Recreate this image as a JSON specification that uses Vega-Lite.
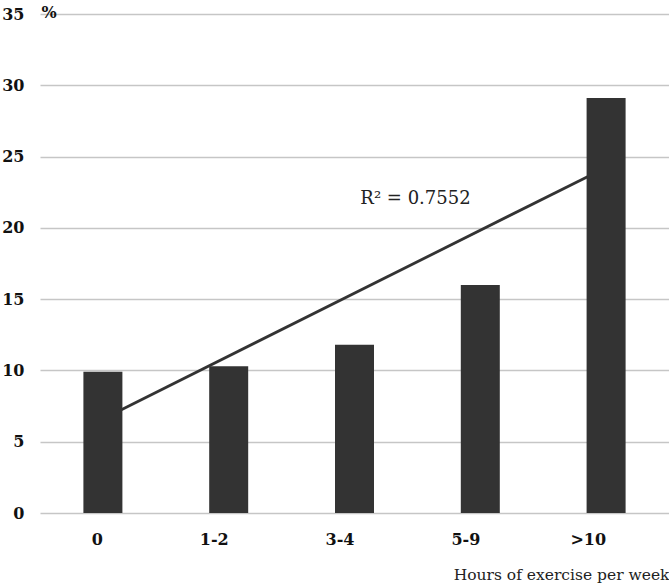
{
  "$schema": "https://vega.github.io/schema/vega-lite/v6.json",
  "width": 629,
  "height": 499,
  "autosize": {"type": "none"},
  "padding": {"left": 40, "top": 14, "right": 0, "bottom": 73},
  "background": "white",
  "config": {
    "view": {"stroke": null},
    "font": "DejaVu Serif"
  },
  "datasets": {
    "bars": [
      {"hours": "0", "pct": 9.9},
      {"hours": "1-2", "pct": 10.3},
      {"hours": "3-4", "pct": 11.8},
      {"hours": "5-9", "pct": 16.0},
      {"hours": ">10", "pct": 29.1}
    ],
    "trend": [
      {"hours": "0", "pct": 6.6},
      {"hours": ">10", "pct": 24.24}
    ],
    "label": [
      {"hours": "3-4", "pct": 22, "text": "R² = 0.7552"}
    ]
  },
  "layer": [
    {
      "data": {"name": "trend"},
      "mark": {"type": "line", "color": "#333333", "strokeWidth": 2.8},
      "encoding": {
        "x": {"field": "hours", "type": "nominal", "sort": ["0", "1-2", "3-4", "5-9", ">10"]},
        "y": {"field": "pct", "type": "quantitative"}
      }
    },
    {
      "data": {"name": "bars"},
      "mark": {"type": "bar", "color": "#333333"},
      "encoding": {
        "x": {
          "field": "hours", "type": "nominal",
          "sort": ["0", "1-2", "3-4", "5-9", ">10"],
          "scale": {"paddingInner": 0.69, "paddingOuter": 0.345},
          "axis": {
            "title": "Hours of exercise per week",
            "titleFont": "DejaVu Serif",
            "titleFontWeight": "normal",
            "titleFontSize": 15.5,
            "titleColor": "#222222",
            "titleAnchor": "end",
            "titleAlign": "right",
            "titleX": 629,
            "titleY": 61,
            "titleBaseline": "middle",
            "labelAngle": 0,
            "labelFont": "DejaVu Serif",
            "labelFontWeight": "bold",
            "labelFontSize": 16,
            "labelColor": "#111111",
            "labelPadding": 26,
            "ticks": false,
            "domain": false,
            "grid": false
          }
        },
        "y": {
          "field": "pct", "type": "quantitative",
          "scale": {"domain": [0, 35], "nice": false},
          "axis": {
            "values": [0, 5, 10, 15, 20, 25, 30, 35],
            "title": "%",
            "titleAngle": 0,
            "titleX": 1,
            "titleY": -2,
            "titleAlign": "left",
            "titleBaseline": "middle",
            "titleFont": "DejaVu Serif",
            "titleFontSize": 16,
            "titleFontWeight": "bold",
            "titleColor": "#111111",
            "labelFont": "DejaVu Serif",
            "labelFontWeight": "bold",
            "labelFontSize": 16,
            "labelColor": "#111111",
            "labelPadding": 16,
            "ticks": false,
            "domain": false,
            "grid": true,
            "gridColor": "#c6c6c6",
            "gridWidth": 1.5
          }
        }
      }
    },
    {
      "data": {"name": "label"},
      "mark": {"type": "text", "font": "DejaVu Serif", "fontSize": 18, "color": "#222222", "dx": 61, "align": "center", "baseline": "middle"},
      "encoding": {
        "x": {"field": "hours", "type": "nominal", "sort": ["0", "1-2", "3-4", "5-9", ">10"]},
        "y": {"field": "pct", "type": "quantitative"},
        "text": {"field": "text"}
      }
    }
  ]
}
